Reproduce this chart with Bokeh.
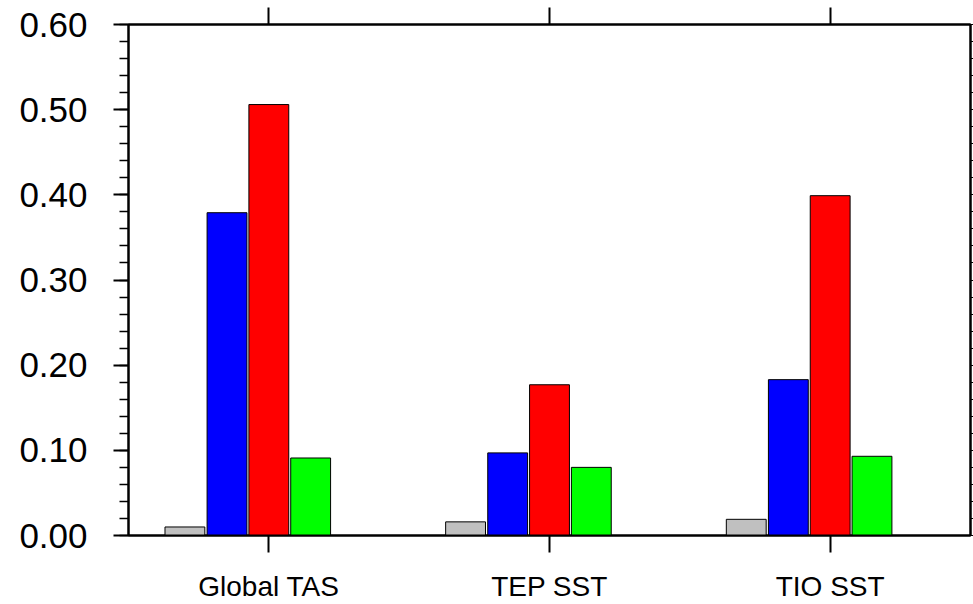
from bokeh.plotting import figure
from bokeh.models import (FactorRange, Range1d, LinearAxis, CategoricalAxis,
                          FixedTicker, PrintfTickFormatter, ColumnDataSource,
                          CustomJSTickFormatter)
from bokeh.transform import dodge
from bokeh.embed import file_html
from bokeh.resources import INLINE

# ---- data ----
categories = ["Global TAS", "TEP SST", "TIO SST"]
grey_vals = [0.010, 0.016, 0.019]
blue_vals = [0.379, 0.097, 0.183]
red_vals = [0.506, 0.177, 0.399]
green_vals = [0.091, 0.080, 0.093]
y_ticks = [0.0, 0.1, 0.2, 0.3, 0.4, 0.5, 0.6]
y_minor = [round(i * 0.02, 2) for i in range(31)]

series = [
    ("grey", grey_vals, "#c0c0c0", -0.299),
    ("blue", blue_vals, "#0000ff", -0.149),
    ("red", red_vals, "#ff0000", 0.0),
    ("green", green_vals, "#00ff00", 0.149),
]

src = ColumnDataSource(dict(cat=categories, grey=grey_vals, blue=blue_vals,
                            red=red_vals, green=green_vals))

FONT = "Liberation Sans"

p = figure(width=973, height=604, x_range=FactorRange(*categories),
           y_range=Range1d(0, 0.6), output_backend="svg", toolbar_location=None,
           min_border_left=128, min_border_right=3, min_border_top=24,
           min_border_bottom=68, background_fill_color="white",
           border_fill_color="white")

p.xgrid.visible = False
p.ygrid.visible = False
p.outline_line_color = "black"
p.outline_line_width = 2

for name, vals, color, off in series:
    p.vbar(x=dodge("cat", off, range=p.x_range), top=name, width=0.142,
           source=src, fill_color=color, line_color="black", line_width=1)

# bottom axis
xa = p.xaxis[0]
xa.major_tick_out = 17
xa.major_tick_in = 0
xa.major_tick_line_width = 2
xa.axis_line_width = 2
xa.major_label_text_font = FONT
xa.major_label_text_font_size = "28px"
xa.major_label_text_color = "black"
xa.major_label_standoff = 18

# left axis
ya = p.yaxis[0]
ya.ticker = FixedTicker(ticks=y_ticks, minor_ticks=y_minor)
ya.formatter = PrintfTickFormatter(format="%.2f")
ya.major_tick_out = 15
ya.major_tick_in = 0
ya.minor_tick_out = 9
ya.minor_tick_in = 0
ya.major_tick_line_width = 2
ya.minor_tick_line_width = 1.5
ya.axis_line_width = 2
ya.major_label_text_font = FONT
ya.major_label_text_font_size = "35px"
ya.major_label_text_color = "black"
ya.major_label_standoff = 26

# top axis (ticks only)
ta = CategoricalAxis(major_tick_out=17, major_tick_in=0, major_tick_line_width=2,
                     axis_line_width=2, major_label_standoff=0,
                     formatter=CustomJSTickFormatter(code="return ''"))
p.add_layout(ta, "above")

# right axis (ticks only)
ra = LinearAxis(ticker=FixedTicker(ticks=y_ticks, minor_ticks=y_minor),
                major_tick_out=3, major_tick_in=0, minor_tick_out=3, minor_tick_in=0,
                axis_line_width=2, major_label_standoff=0,
                major_label_overrides={t: "" for t in y_ticks})
p.add_layout(ra, "right")

open("out.html", "w").write(file_html(p, INLINE))
